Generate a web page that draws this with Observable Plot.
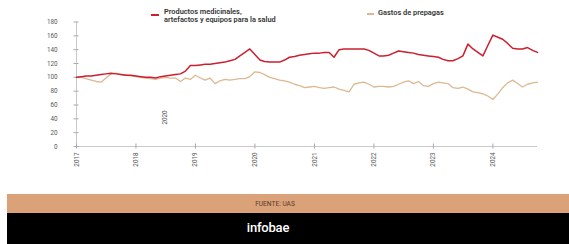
<!DOCTYPE html>
<html>
<head>
<meta charset="utf-8">
<script src="https://cdn.jsdelivr.net/npm/d3@7"></script>
<script src="https://cdn.jsdelivr.net/npm/@observablehq/plot@0.6"></script>
<style>
  html, body { margin: 0; padding: 0; background: #fff; }
  #wrap { position: relative; width: 569px; height: 244px; overflow: hidden; font-family: Roboto, "Liberation Sans", sans-serif; }
  #chart { position: absolute; left: 0; top: 0; }
  .leg { position: absolute; font-size: 7.4px; font-weight: 600; color: #333; line-height: 8px; }
  .sw { position: absolute; height: 2px; }
  #fuente { position: absolute; left: 7px; top: 194px; width: 562px; height: 19px; background: #dba27a; }
  #fuente span { position: absolute; left: 236px; width: 64px; text-align: center; top: 6px; font-size: 6.6px; color: #5a3826; }
  #brand { position: absolute; left: 7px; top: 213px; width: 562px; height: 31px; background: #000; }
  #brand span { position: absolute; left: 226px; width: 70px; text-align: center; top: 7px; font-size: 13px; color: #fff; font-weight: 500; letter-spacing: -0.2px; }
</style>
</head>
<body>
<div id="wrap">
  <div id="chart"></div>
  <div class="sw" style="left:151px;top:14px;width:8px;background:#cc1f2f"></div>
  <div class="leg" style="left:164px;top:8px;">Productos medicinales,<br>artefactos y equipos para la salud</div>
  <div class="sw" style="left:367px;top:13px;width:7px;background:#dcb892"></div>
  <div class="leg" style="left:378px;top:9px;">Gastos de prepagas</div>
  <div id="fuente"><span>FUENTE: UAS</span></div>
  <div id="brand"><span>infobae</span></div>
</div>
<script>
// Monthly series, January 2017 to October 2024
const startYear = 2017;
const productos = [
  100,101,102,102,103,104,105,106,105,104,103,103,
  102,101,100,100,99,101,102,103,104,105,109,117,
  117,118,119,119,120,121,122,124,126,131,136,141,
  133,125,123,122,122,122,125,129,130,132,133,134,
  135,135,136,136,129,140,141,141,141,141,141,139,
  135,131,131,132,135,138,137,136,135,133,132,131,
  130,129,126,124,124,127,131,148,141,136,131,146,
  161,158,155,149,142,141,141,143,139,136
];
const prepagas = [
  100,100,98,96,94,93,99,105,106,104,103,102,
  101,100,99,98,97,99,100,99,99,94,99,97,
  103,99,96,99,91,95,97,96,97,98,98,101,
  108,107,104,100,98,96,95,93,90,88,85,86,
  87,85,84,85,86,83,81,79,90,92,93,90,
  86,87,87,86,87,90,93,95,91,94,88,87,
  91,93,92,91,85,84,86,83,79,78,76,73,
  68,76,85,92,96,91,86,90,92,93
];
const yTicks = [0,20,40,60,80,100,120,140,160,180];
const yearTicks = [2017,2018,2019,2020,2021,2022,2023,2024];
const stray = [{year: 2018, month: 6, value: 42, label: "2020"}];

const date = (i) => new Date(Date.UTC(startYear, i, 1));
const rows = [
  ...productos.map((v, i) => ({date: date(i), value: v, serie: "Productos"})),
  ...prepagas.map((v, i) => ({date: date(i), value: v, serie: "Prepagas"}))
];
const xTickDates = yearTicks.map(y => new Date(Date.UTC(y, 0, 1)));
const x0 = date(0), x1 = date(productos.length - 1);

const chart = Plot.plot({
  width: 569,
  height: 190,
  marginLeft: 76,
  marginRight: 32,
  marginTop: 21.5,
  marginBottom: 44,
  style: {fontFamily: "Roboto, 'Liberation Sans', sans-serif", fontSize: "6.3px", color: "#555", background: "transparent"},
  x: {type: "utc", domain: [x0, x1], label: null},
  y: {domain: [0, 180], label: null},
  color: {domain: ["Productos", "Prepagas"], range: ["#cc1f2f", "#dcb892"]},
  marks: [
    Plot.ruleY([0], {stroke: "#bbb", strokeWidth: 0.8}),
    Plot.ruleX([x0], {y1: 0, y2: 180, stroke: "#bbb", strokeWidth: 0.8}),
    Plot.axisY({ticks: yTicks, tickSize: 5, dx: 2.5, text: null, stroke: "#aaa", label: null}),
    Plot.axisY({ticks: yTicks, tickSize: 0, tickPadding: 19, fill: "#555", label: null}),
    Plot.axisX({ticks: xTickDates, tickSize: 5, dy: -2.5, text: null, stroke: "#aaa", label: null}),
    Plot.axisX({ticks: xTickDates, tickSize: 0, tickPadding: 6, tickRotate: -90, tickFormat: d3.utcFormat("%Y"), fill: "#555", label: null}),
    Plot.line(rows.filter(d => d.serie === "Prepagas"), {x: "date", y: "value", stroke: "serie", strokeWidth: 1.3, curve: "linear"}),
    Plot.line(rows.filter(d => d.serie === "Productos"), {x: "date", y: "value", stroke: "serie", strokeWidth: 1.5, curve: "linear"}),
    Plot.text(stray, {x: d => new Date(Date.UTC(d.year, d.month, 1)), y: "value", text: "label", rotate: -90, fill: "#555", fontSize: 6.3})
  ]
});
document.getElementById("chart").appendChild(chart);
</script>
</body>
</html>
